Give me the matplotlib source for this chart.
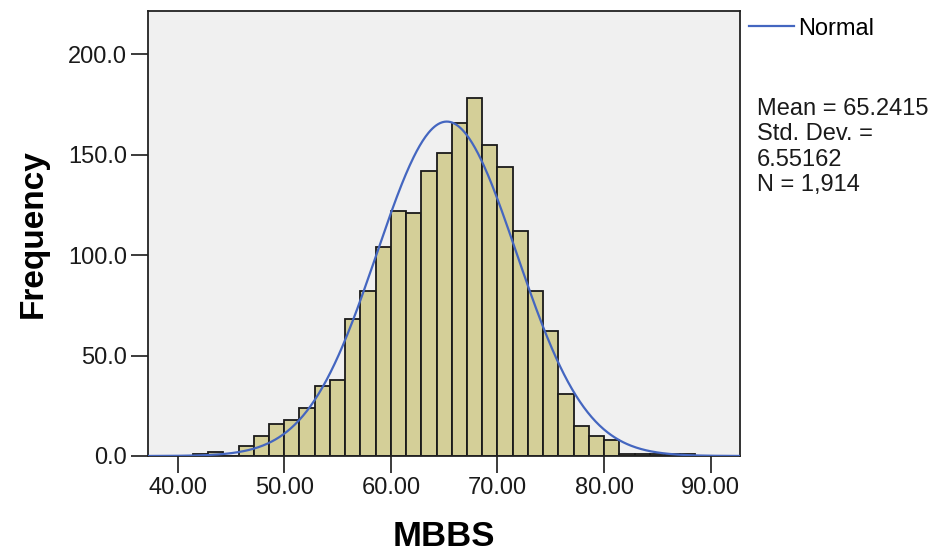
import numpy as np
import matplotlib
matplotlib.use("Agg")
import matplotlib.pyplot as plt
from matplotlib.lines import Line2D

# ---- data ----
bin_start = 41.4286
bin_width = 10.0 / 7.0
counts = [1, 2, 0, 5, 10, 16, 18, 24, 35, 38,
          68, 82, 104, 122, 121, 142, 151, 166, 178, 155,
          144, 112, 82, 62, 31, 15, 10, 8, 1, 1, 1, 1, 1]
mean_val = 65.2415
std_val = 6.55162
n_val = 1914
x_ticks = [40, 50, 60, 70, 80, 90]
y_ticks = [0, 50, 100, 150, 200]

plt.rcParams['font.family'] = ['Liberation Sans', 'DejaVu Sans']

fig = plt.figure(figsize=(9.44, 5.55), dpi=100)
ax = fig.add_axes([147.7 / 944, 1 - 456 / 555, (740 - 147.7) / 944, (456 - 10.7) / 555])
ax.set_facecolor('#F0F0F0')

edges = bin_start + bin_width * np.arange(len(counts))
ax.bar(edges, counts, width=bin_width, align='edge', color='#D4CF98',
       edgecolor='#1a1a1a', linewidth=1.3, zorder=2)

xlim = (37.19, 92.75)
xs = np.linspace(xlim[0], xlim[1], 600)
ys = n_val * bin_width * np.exp(-0.5 * ((xs - mean_val) / std_val) ** 2) / (std_val * np.sqrt(2 * np.pi))
ax.plot(xs, ys, color='#4466C0', linewidth=1.6, zorder=3)

ax.set_xlim(*xlim)
ax.set_ylim(0, 221.7)
ax.set_xticks(x_ticks)
ax.set_xticklabels([f"{v:.2f}" for v in x_ticks])
ax.set_yticks(y_ticks)
ax.set_yticklabels([f"{v:.1f}" for v in y_ticks])
ax.tick_params(axis='both', direction='out', length=12, width=1.2, labelsize=17,
               colors='#1a1a1a', pad=3)
for s in ax.spines.values():
    s.set_color('#222222')
    s.set_linewidth(1.3)

ax.set_xlabel('MBBS', fontsize=25, fontweight='bold', labelpad=15)
ax.set_ylabel('Frequency', fontsize=24, fontweight='bold', labelpad=14)

handle = Line2D([], [], color='#4466C0', linewidth=1.6)
fig.legend([handle], ['Normal'], loc='upper left', bbox_to_anchor=(744 / 944, 1 - 13 / 555),
           frameon=False, fontsize=17, handlelength=1.9, handletextpad=0.2,
           borderaxespad=0, borderpad=0.2)

stats = f"Mean = {mean_val:.4f}\nStd. Dev. =\n{std_val:.5f}\nN = {n_val:,}"
fig.text(757 / 944, 1 - 98 / 555, stats, fontsize=17, va='top', ha='left',
         linespacing=1.2, color='#1a1a1a')

fig.savefig('out.png', dpi=100)
